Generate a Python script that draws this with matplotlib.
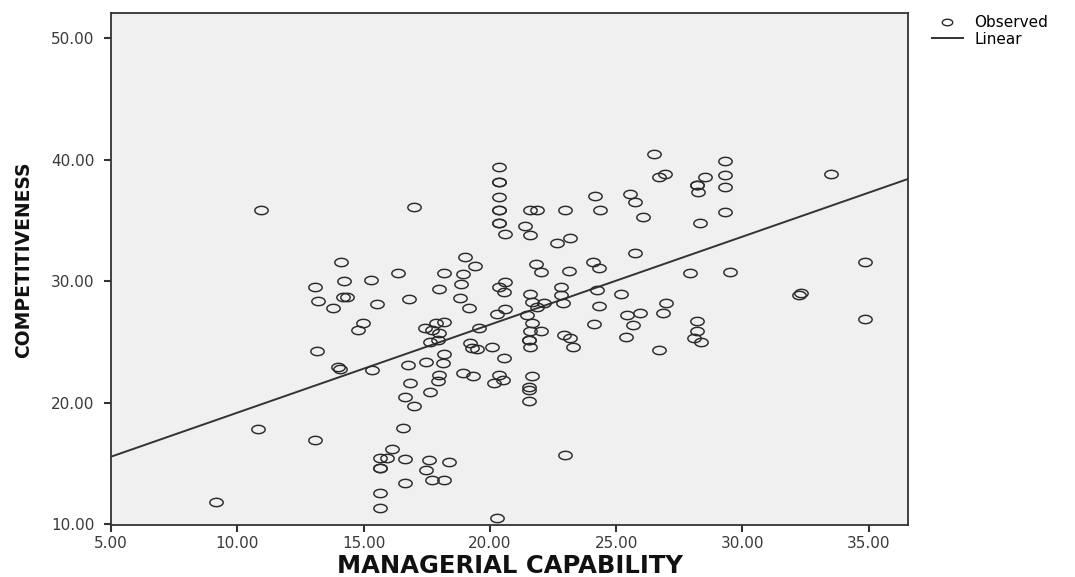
import numpy as np
import matplotlib
matplotlib.use("Agg")
import matplotlib.pyplot as plt
from matplotlib.path import Path
from matplotlib.lines import Line2D

# ---- data ----
managerial_capability = [
    10.93, 14.10, 14.23, 13.08, 15.29, 14.20, 14.34, 13.21, 13.78, 14.97,
    14.80, 13.16, 13.97, 14.05, 15.33, 10.82, 13.07, 9.16, 20.38, 20.38,
    20.38, 20.38, 20.38, 20.38, 20.38, 20.38, 20.61, 16.98, 24.18, 24.35,
    21.60, 21.87, 22.96, 21.40, 21.60, 22.66, 23.16, 19.02, 19.42, 21.84,
    22.03, 23.12, 24.08, 24.31, 25.20, 16.38, 18.17, 18.93, 18.85, 17.97,
    16.80, 15.53, 18.83, 19.16, 20.35, 20.61, 20.57, 21.60, 21.67, 22.13,
    21.87, 22.82, 22.82, 22.90, 24.24, 24.31, 24.11, 20.28, 20.61, 21.48,
    21.67, 21.60, 22.03, 21.54, 21.60, 21.54, 22.92, 23.18, 19.58, 19.22,
    20.08, 17.88, 18.19, 17.44, 17.71, 17.97, 17.64, 17.93, 16.78, 17.48,
    18.19, 18.14, 17.97, 17.93, 16.85, 17.64, 16.65, 16.98, 18.93, 19.33,
    19.29, 19.49, 20.57, 20.35, 20.54, 20.18, 21.67, 21.54, 21.54, 21.57,
    23.31, 22.99, 16.58, 16.12, 15.66, 15.92, 15.66, 15.66, 16.65, 17.61,
    18.37, 17.48, 17.71, 18.17, 16.65, 15.66, 15.66, 20.28, 26.49, 26.69,
    26.95, 25.56, 25.76, 26.07, 29.33, 29.33, 29.33, 29.33, 28.53, 28.20,
    28.20, 28.26, 28.33, 33.53, 25.73, 27.91, 29.52, 34.87, 32.23, 32.34,
    34.87, 26.99, 26.86, 25.43, 25.93, 25.69, 25.40, 26.69, 28.20, 28.20,
    28.10, 28.36,
]
competitiveness = [
    35.84, 31.59, 30.02, 29.48, 30.10, 28.71, 28.71, 28.38, 27.80, 26.57,
    25.97, 24.25, 22.95, 22.73, 22.67, 17.82, 16.91, 11.84, 39.36, 38.17,
    38.17, 36.89, 35.84, 35.84, 34.75, 34.75, 33.87, 36.12, 37.02, 35.84,
    35.84, 35.84, 35.84, 34.55, 33.79, 33.10, 33.56, 31.95, 31.23, 31.37,
    30.71, 30.82, 31.54, 31.05, 28.95, 30.63, 30.63, 30.58, 29.75, 29.32,
    28.52, 28.11, 28.58, 27.80, 29.48, 29.94, 29.12, 28.91, 28.30, 28.20,
    27.90, 29.48, 28.85, 28.21, 29.26, 27.97, 26.43, 27.28, 27.67, 27.20,
    26.52, 25.91, 25.91, 25.14, 24.59, 25.14, 25.56, 25.28, 26.11, 24.87,
    24.59, 26.52, 26.65, 26.11, 25.97, 25.75, 25.00, 25.14, 23.09, 23.36,
    23.99, 23.28, 22.26, 21.80, 21.58, 20.84, 20.48, 19.74, 22.40, 22.18,
    24.46, 24.38, 23.69, 22.26, 21.85, 21.58, 22.18, 21.30, 21.03, 20.15,
    24.59, 15.70, 17.88, 16.17, 15.41, 15.41, 14.58, 14.58, 15.35, 15.27,
    15.13, 14.44, 13.62, 13.62, 13.40, 12.53, 11.29, 10.47, 40.45, 38.53,
    38.81, 37.16, 36.53, 35.29, 39.90, 38.72, 37.76, 35.70, 38.53, 37.90,
    37.90, 37.35, 34.75, 38.78, 32.28, 30.63, 30.77, 31.59, 28.85, 28.99,
    26.85, 28.21, 27.34, 27.20, 27.34, 26.38, 25.42, 24.32, 26.73, 25.88,
    25.28, 24.95,
]
# linear fit line as drawn in the reference (intercept, slope)
fit_intercept = 11.92
fit_slope = 0.7243

x_ticks = [5, 10, 15, 20, 25, 30, 35]
y_ticks = [10, 20, 30, 40, 50]
x_label = "MANAGERIAL CAPABILITY"
y_label = "COMPETITIVENESS"
legend_labels = ["Observed", "Linear"]

# ---- figure ----
W, H = 1075, 577
fig = plt.figure(figsize=(W / 100, H / 100), dpi=100)
ax_l, ax_r, ax_t, ax_b = 111, 908, 13, 525
ax = fig.add_axes([ax_l / W, 1 - ax_b / H, (ax_r - ax_l) / W, (ax_b - ax_t) / H])
ax.set_facecolor("#f0f0f0")

# ellipse marker (wider than tall)
t = np.linspace(0, 2 * np.pi, 60)
ell = Path(np.column_stack([1.6 * np.cos(t), np.sin(t)]), closed=True)

x = np.array(managerial_capability)
y = np.array(competitiveness)
ax.plot(x, y, linestyle="none", marker=ell, markersize=9.6,
        markerfacecolor="none", markeredgecolor="#2b2b2b", markeredgewidth=1.05,
        zorder=3)

xlim = (5, 36.56)
ylim = (9.92, 52.06)
xx = np.array(xlim)
ax.plot(xx, fit_intercept + fit_slope * xx, color="#333333", linewidth=1.4, zorder=2)

ax.set_xlim(*xlim)
ax.set_ylim(*ylim)
ax.set_xticks(x_ticks)
ax.set_yticks(y_ticks)
ax.set_xticklabels([f"{v:.2f}" for v in x_ticks])
ax.set_yticklabels([f"{v:.2f}" for v in y_ticks])
ax.tick_params(axis="both", direction="out", length=5, width=1.5,
               color="#333333", labelsize=11, labelcolor="#3a3a3a")
ax.tick_params(axis="x", pad=3)
ax.tick_params(axis="y", pad=7)
for s in ax.spines.values():
    s.set_color("#333333")
    s.set_linewidth(1.3)

ax.set_xlabel(x_label, fontsize=17.5, fontweight="bold", color="#111111")
ax.xaxis.set_label_coords(0.5, (ax_b - 554) / (ax_b - ax_t))
ax.set_ylabel(y_label, fontsize=13.5, fontweight="bold", color="#111111")
ax.yaxis.set_label_coords((33 - ax_l) / (ax_r - ax_l), (ax_b - 260) / (ax_b - ax_t))

handles = [
    Line2D([], [], linestyle="none", marker=ell, markersize=7.5,
           markerfacecolor="none", markeredgecolor="#2b2b2b", markeredgewidth=1.0),
    Line2D([], [], color="#333333", linewidth=1.4),
]
fig.legend(handles, legend_labels, loc="upper left",
           bbox_to_anchor=(932 / W, 1 - 15 / H),
           frameon=False, fontsize=11, handlelength=2.0, handletextpad=0.75,
           labelspacing=0.1, borderaxespad=0, borderpad=0)

fig.savefig("out.png", dpi=100, facecolor="white")
